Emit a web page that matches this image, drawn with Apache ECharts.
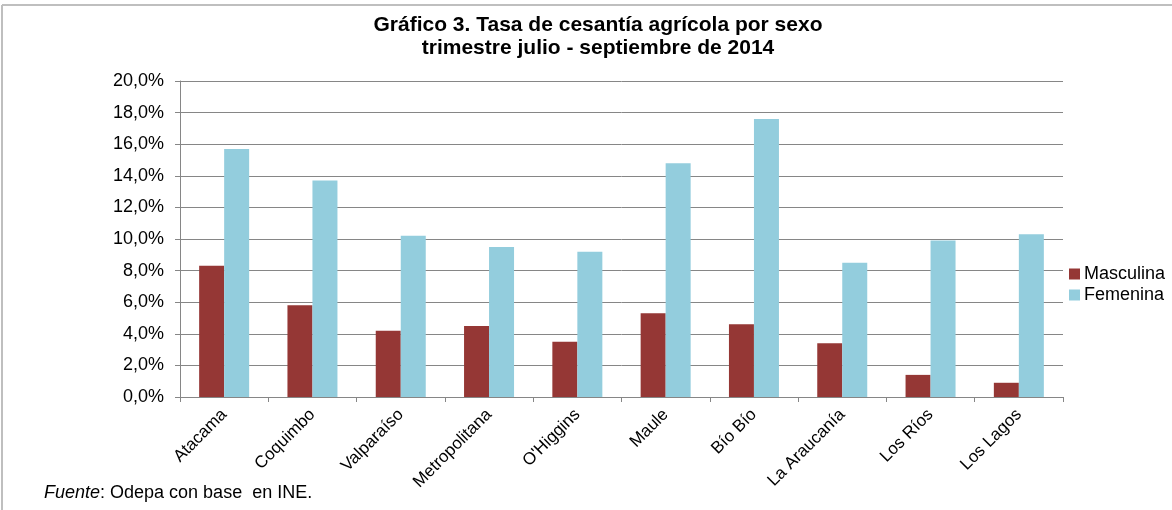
<!DOCTYPE html>
<html lang="es">
<head>
    <meta charset="UTF-8">
    <title>Gráfico 3</title>
    <script src="https://cdn.jsdelivr.net/npm/echarts@6/dist/echarts.min.js"></script>
    <style>
        html, body { margin: 0; padding: 0; background: #fff; }
    </style>
</head>
<body>
<div id="main" style="width: 1172px;height:510px;"></div>
<script>
    // regiones
    var regiones = ['Atacama', 'Coquimbo', 'Valparaíso', 'Metropolitana', "O'Higgins",
        'Maule', 'Bío Bío', 'La Araucanía', 'Los Ríos', 'Los Lagos'];
    // tasa de cesantía (%)
    var masculina = [8.3, 5.8, 4.2, 4.5, 3.5, 5.3, 4.6, 3.4, 1.4, 0.9];
    var femenina = [15.7, 13.7, 10.2, 9.5, 9.2, 14.8, 17.6, 8.5, 9.9, 10.3];

    var myChart = echarts.init(document.getElementById('main'));
    var fuente = 'Liberation Sans, Arial, sans-serif';

    var option = {
        backgroundColor: '#fff',
        animation: false,
        textStyle: {fontFamily: fuente},
        title: {
            text: 'Gráfico 3. Tasa de cesantía agrícola por sexo\ntrimestre julio - septiembre de 2014',
            left: 593,
            top: 9,
            textAlign: 'center',
            textStyle: {fontSize: 21, fontWeight: 'bold', color: '#000', lineHeight: 23, fontFamily: fuente}
        },
        legend: {
            orient: 'vertical',
            left: 1064,
            top: 260,
            itemWidth: 11,
            itemHeight: 11,
            itemGap: 3,
            icon: 'rect',
            textStyle: {fontSize: 18, color: '#000', padding: [0, 0, 0, -1]},
            data: ['Masculina', 'Femenina']
        },
        grid: {
            left: 180,
            right: 109,
            top: 81,
            bottom: 113
        },
        xAxis: {
            type: 'category',
            data: regiones,
            axisLine: {lineStyle: {color: '#868686'}},
            axisTick: {show: true, length: 5, lineStyle: {color: '#868686'}},
            axisLabel: {rotate: 45, fontSize: 17, color: '#000', margin: 15, interval: 0}
        },
        yAxis: {
            type: 'value',
            min: 0,
            max: 20,
            interval: 2,
            axisLine: {show: true, lineStyle: {color: '#868686'}},
            axisTick: {show: true, length: 5, lineStyle: {color: '#868686'}},
            splitLine: {lineStyle: {color: '#868686'}},
            axisLabel: {
                fontSize: 18, color: '#000', margin: 16,
                formatter: function (v) {
                    return v.toFixed(1).replace('.', ',') + '%';
                }
            }
        },
        series: [
            {
                name: 'Masculina',
                type: 'bar',
                data: masculina,
                barWidth: 25,
                barGap: '0%',
                itemStyle: {color: '#953735'}
            },
            {
                name: 'Femenina',
                type: 'bar',
                data: femenina,
                barWidth: 25,
                barGap: '0%',
                itemStyle: {color: '#93CDDD'}
            }
        ],
        graphic: [
            {
                type: 'line',
                shape: {x1: 2, y1: 5, x2: 1172, y2: 5},
                style: {stroke: '#bfbfbf', lineWidth: 2},
                silent: true
            },
            {
                type: 'line',
                shape: {x1: 2, y1: 5, x2: 2, y2: 510},
                style: {stroke: '#bfbfbf', lineWidth: 2},
                silent: true
            },
            {
                type: 'text',
                left: 44,
                top: 484,
                style: {
                    text: '{i|Fuente}: Odepa con base  en INE.',
                    font: '18px ' + fuente,
                    fill: '#000',
                    rich: {i: {fontStyle: 'italic', fontSize: 18, fontFamily: fuente}}
                }
            }
        ]
    };

    myChart.setOption(option);
</script>
</body>
</html>
